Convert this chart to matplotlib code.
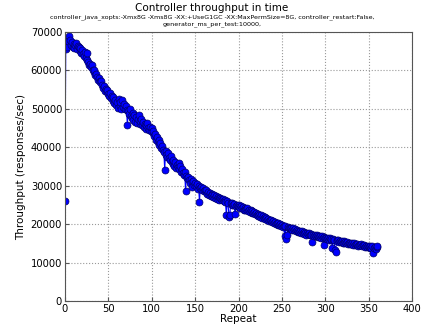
import numpy as np
import matplotlib
matplotlib.use('Agg')
import matplotlib.pyplot as plt

title = 'Controller throughput in time'
subtitle = ('controller_java_xopts:-Xmx8G -Xms8G -XX:+UseG1GC -XX:MaxPermSize=8G, controller_restart:False,\n'
            'generator_ms_per_test:10000,')

# throughput per repeat (responses/sec)
throughput = [
    26000, 65500, 66800, 66200, 67600, 69000, 67900, 66600, 67300, 66100,
    66900, 65900, 66700, 67100, 65600, 66400, 66000, 65200, 65900, 64600,
    65300, 64200, 63800, 64900, 63300, 62700, 64500, 62100, 61300, 61800,
    60800, 61400, 60200, 59500, 60000, 58700, 59200, 58300, 57600, 58100,
    57300, 56900, 57200, 56100, 55400, 55900, 54600, 55200, 54300, 54800,
    54000, 53400, 54200, 52800, 53300, 52100, 53000, 51500, 52400, 50900,
    51700, 50300, 52700, 50800, 51900, 50100, 52300, 50600, 51300, 50000,
    50800, 49700, 45800, 49400, 48800, 49900, 48200, 47600, 48900, 47100,
    48300, 46700, 47800, 46400, 47300, 48500, 46000, 46900, 47400, 45800,
    46600, 45300, 46200, 44900, 45700, 46400, 45100, 44600, 45400, 44200,
    45000, 43700, 44300, 42900, 43400, 41900, 42600, 41300, 41800, 40700,
    41200, 39900, 40400, 39300, 38700, 34100, 39000, 38100, 37600, 38400,
    37200, 36600, 37700, 36100, 35600, 36800, 35200, 36300, 34700, 35500,
    34900, 35800, 34300, 35100, 33700, 34400, 33300, 32800, 33600, 28700,
    32600, 31900, 32300, 31400, 30600, 31700, 30900, 29600, 31200, 30300,
    30800, 29900, 30400, 29100, 30000, 25800, 29500, 29800, 28900, 29300,
    28600, 29000, 28300, 28800, 27900, 28400, 27600, 28100, 27300, 27800,
    27500, 27100, 27700, 26900, 27300, 26600, 27000, 26800, 26400, 26900,
    26500, 26200, 26600, 25900, 26300, 25700, 22300, 26000, 25400, 21800,
    22400, 25600, 25100, 25400, 24900, 25300, 22700, 24800, 25100, 24600,
    25000, 24500, 24200, 24700, 24100, 24400, 23800, 24200, 23600, 23900,
    24300, 23500, 23800, 23200, 23600, 23000, 23400, 22800, 23100, 22600,
    22900, 22400, 22700, 22100, 22500, 21900, 22300, 21700, 22000, 21500,
    21800, 21300, 21600, 21100, 21400, 20900, 21200, 20700, 21000, 20500,
    20800, 20300, 20600, 20100, 20400, 19900, 20200, 19700, 20000, 19500,
    19800, 19300, 19600, 16900, 19400, 16200, 17300, 19200, 18900, 19100,
    18800, 19000, 18600, 18900, 18400, 18700, 18200, 18500, 18000, 18300,
    17900, 18200, 17800, 18100, 17600, 17900, 17500, 17800, 17300, 17600,
    17400, 17700, 17200, 17500, 17100, 15400, 17300, 16900, 17200, 16800,
    17100, 16700, 17000, 16600, 16900, 16500, 16800, 16400, 14600, 16600,
    16300, 16500, 16200, 16400, 16000, 16300, 15900, 16200, 13800, 16100,
    15800, 13200, 12800, 15900, 15600, 15800, 15400, 15700, 15300, 15600,
    15200, 15500, 15100, 15400, 15000, 15300, 14900, 15200, 14800, 15100,
    14900, 15100, 14700, 15000, 14600, 14900, 14500, 14800, 14400, 14700,
    14500, 14800, 14300, 14600, 14200, 14500, 14100, 14400, 14000, 14300,
    14100, 13900, 14300, 13800, 14200, 12600, 13700, 14100, 13600, 14000,
    14200,
]
repeats = np.arange(len(throughput))

fig = plt.figure(figsize=(4.24, 3.24), dpi=100)
ax = fig.add_axes([0.153, 0.071, 0.819, 0.830])

ax.plot(repeats, throughput, color='blue', linewidth=0.8,
        marker='o', markersize=5, markerfacecolor='blue',
        markeredgecolor='#000066', markeredgewidth=0.5)

ax.set_xlim(0, 400)
ax.set_ylim(0, 70000)
ax.set_xticks(range(0, 401, 50))
ax.set_yticks(range(0, 70001, 10000))
ax.grid(True, color='#999999', linestyle=':', linewidth=0.8)
ax.tick_params(labelsize=7.2, direction='in', length=3, pad=2, color='#555555')
for s in ax.spines.values():
    s.set_color('#555555')

ax.set_xlabel('Repeat', fontsize=7.5, labelpad=0)
ax.set_ylabel('Throughput (responses/sec)', fontsize=7.5, labelpad=3)

fig.text(0.5, 0.99, title, ha='center', va='top', fontsize=7.5)
fig.text(0.5, 0.955, subtitle, ha='center', va='top', fontsize=4.6, linespacing=1.15)

fig.savefig('out.png', dpi=100)
